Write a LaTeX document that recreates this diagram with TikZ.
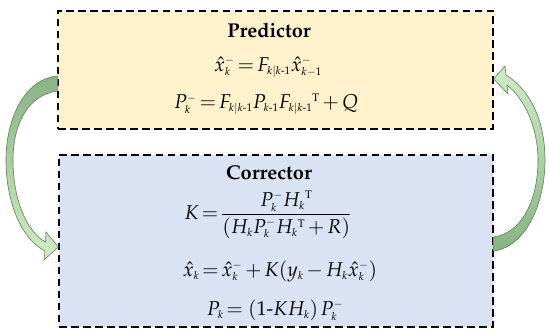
\documentclass[tikz,border=0pt]{standalone}
\usepackage[T1]{fontenc}
\usepackage{mathpazo}
\usepackage{amsmath}
\usetikzlibrary{calc}
\DeclareMathSizes{20}{20}{11}{8.5}
\definecolor{predfill}{HTML}{FFF2CC}
\definecolor{corrfill}{HTML}{DAE3F3}
\definecolor{arrdark}{HTML}{88B383}
\definecolor{arrlight}{HTML}{D0EDC6}
\definecolor{arredge}{HTML}{5E7E5A}
\newcommand{\hy}{\text{-}}
\newcommand{\xhm}[1]{\hat{x}^{-}_{#1}}
\begin{document}
\begin{tikzpicture}[x=1pt,y=-1pt,
  box/.style={draw=black,line width=1.3pt,dash pattern=on 7.5pt off 4.5pt,inner sep=0pt},
  titletext/.style={font=\fontsize{20}{24}\selectfont\bfseries},
  eqtext/.style={font=\fontsize{20}{24}\selectfont,
    execute at begin node={\medmuskip=2.5mu\thickmuskip=2.5mu\thinmuskip=2mu}},
  blockarrow/.style={draw=arredge,line width=0.6pt}]
\useasboundingbox (0,0) rectangle (550,336);
% boxes
\node[box,fill=predfill,minimum width=435pt,minimum height=118pt] (pred) at (275.5,70) {};
\node[box,fill=corrfill,minimum width=434pt,minimum height=172pt] (corr) at (276,241) {};
% predictor texts
\node[titletext] (ptitle) at (269,30) {Predictor};
\node[eqtext] (peq1) at (268,67) {$\xhm{k}=F_{k|k\hy1}\xhm{k-1}$};
\node[eqtext] (peq2) at (266,104) {$P_k^{-}=F_{k|k\hy1}P_{k\hy1}F_{k|k\hy1}{}^{\mathrm{T}}+Q$};
% corrector texts
\node[titletext] (ctitle) at (269,173) {Corrector};
\node[eqtext] (ceq1) at (268,215) {$K=\dfrac{P_k^{-}H_k{}^{\mathrm{T}}}{(H_kP_k^{-}H_k{}^{\mathrm{T}}+R)}$};
\node[eqtext] (ceq2) at (280,271) {$\hat{x}_k=\xhm{k}+K(y_k-H_k\xhm{k})$};
\node[eqtext] (ceq3) at (275,310) {$P_k=\,(1\hy KH_k)\,P_k^{-}$};
% left curved block arrow (predictor -> corrector)
\coordinate (ltailtop) at ($(pred.west)+(0,6)$);
\coordinate (ltailbot) at ($(pred.west)+(0,21)$);
\coordinate (ltip) at ($(corr.west)+(0,6)$);
\path[blockarrow,top color=arrdark,bottom color=arrlight]
  (ltailtop) .. controls (25,79) and (6,118) .. (6,160)
  .. controls (6,200) and (20,238) .. (45,251)
  -- (44,260) -- (ltip) -- (46,232) -- (45.5,242)
  .. controls (27,232) and (13,200) .. (13,160)
  .. controls (13,124) and (28,95) .. (ltailbot) -- cycle;
% right curved block arrow (corrector -> predictor)
\coordinate (rtailtop) at ($(corr.east)+(0,-4)$);
\coordinate (rtailbot) at ($(corr.east)+(0,10)$);
\coordinate (rtip) at ($(pred.east)+(0,9)$);
\path[blockarrow,top color=arrlight,bottom color=arrdark]
  (rtailbot) .. controls (525,247) and (545,205) .. (545,160)
  .. controls (545,120) and (530,90) .. (506,75)
  -- (505,66) -- (rtip) -- (508,94) -- (507,85)
  .. controls (526,100) and (538,130) .. (538,160)
  .. controls (538,200) and (522,233) .. (rtailtop) -- cycle;
\end{tikzpicture}
\end{document}
